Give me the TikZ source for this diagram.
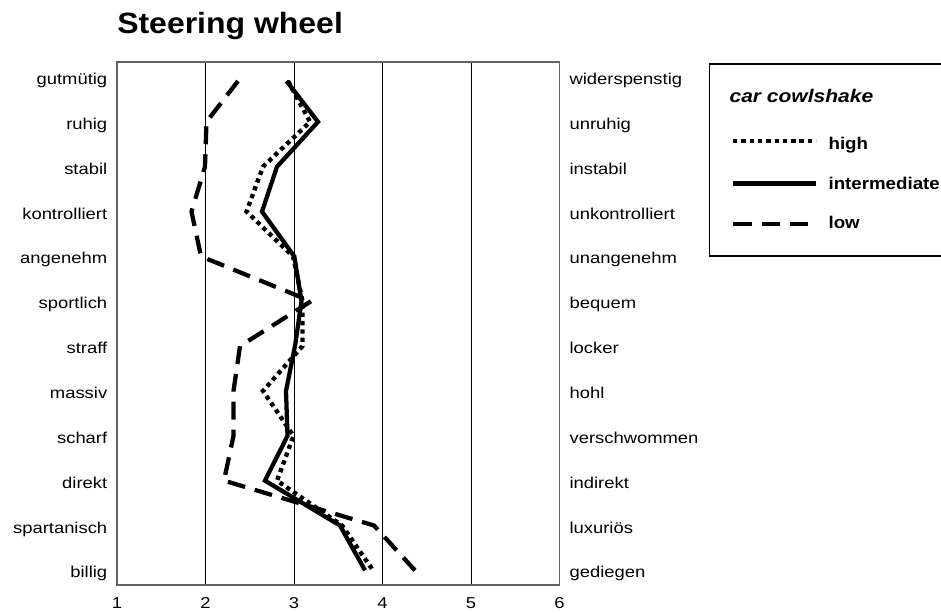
\documentclass[tikz,border=0pt]{standalone}
\usepackage{fontspec}
\setmainfont{Liberation Sans}
\usepackage{graphicx}
\newcommand{\sx}[1]{\scalebox{1.17}[1]{#1}}
\definecolor{framegray}{RGB}{100,100,100}
\begin{document}
\begin{tikzpicture}[x=0.75pt,y=-0.75pt,
  lbl/.style={font=\fontsize{11.8}{14}\selectfont, inner sep=0pt},
  gridline/.style={line width=0.75pt, black},
  frameline/.style={line width=0.9pt, draw=framegray},
  series/.style={line width=3.2pt, line join=miter, line cap=butt},
  hiser/.style={series, line width=3.3pt, dash pattern=on 3.2pt off 3pt},
  midser/.style={series},
  loser/.style={series, dash pattern=on 13.5pt off 7.5pt},
  legtext/.style={font=\fontsize{12.75}{15}\selectfont\bfseries, inner sep=0pt, anchor=base west},
]
\useasboundingbox (0,0) rectangle (941,613);
\clip (0,0) rectangle (941,613);

% title
\node[anchor=base west, inner sep=0pt, font=\fontsize{22}{26}\selectfont\bfseries] (title) at (117,33.3) {\scalebox{1.09}[1]{Steering wheel}};

% grid
\foreach \gx in {205.5,294,382.5,471} \draw[gridline] (\gx,62) -- (\gx,585);

% left and right labels
\foreach \l [count=\i from 0] in {gutmütig,ruhig,stabil,kontrolliert,angenehm,sportlich,straff,massiv,scharf,direkt,spartanisch,billig}
  \node[lbl, anchor=base east] (left\i) at (107.5,{84.5+44.85*\i}) {\sx{\l}};
\foreach \l [count=\i from 0] in {widerspenstig,unruhig,instabil,unkontrolliert,unangenehm,bequem,locker,hohl,verschwommen,indirekt,luxuriös,gediegen}
  \node[lbl, anchor=base west] (right\i) at (569.3,{84.5+44.85*\i}) {\sx{\l}};

% x axis numbers
\foreach \v [count=\k from 0] in {1,...,6}
  \node[lbl, anchor=base] (num\v) at ({117+88.5*\k},608.5) {\sx{\v}};

% series: low (dashed)
\draw[loser] (238,81) -- (206.5,121.85) -- (205,166.7) -- (191.5,211.55) -- (201,256.4)
  -- (311,301.25) -- (240,346.1) -- (233.5,390.95) -- (233.5,435.8) -- (224,480.65)
  -- (374,525.5) -- (415,570.35);
% series: high (dotted)
\draw[hiser] (288,81) -- (310,121.85) -- (263,166.7) -- (246.5,211.55) -- (293,256.4)
  -- (302.5,301.25) -- (302.5,346.1) -- (263,390.95) -- (293.5,435.8) -- (277,480.65)
  -- (342,525.5) -- (373,570.35);
% series: intermediate (solid)
\draw[midser] (286.5,81) -- (318,121.85) -- (277,166.7) -- (262,211.55) -- (294.3,256.4)
  -- (301.5,301.25) -- (295,346.1) -- (286,390.95) -- (287.5,435.8) -- (265,480.65)
  -- (340,525.5) -- (365,570.35);

% frame
\draw[frameline] (117,62) rectangle (559.5,585);

% legend
\draw[line width=1.1pt, black] (709.3,64) rectangle (970,256);
\node[anchor=base west, inner sep=0pt, font=\fontsize{13.7}{16}\selectfont\bfseries\itshape] (legtitle) at (729.3,102.7) {\scalebox{1.15}[1]{car cowlshake}};
\coordinate (hiA) at (733,141);
\coordinate (hiB) at (816,141);
\coordinate (midA) at (733,183.3);
\coordinate (midB) at (816,183.3);
\coordinate (loA) at (733.3,224);
\coordinate (loB) at (808.2,224);
\draw[line width=3.3pt, dash pattern=on 3.3pt off 2.925pt] (hiA) -- (hiB);
\draw[line width=3.6pt] (midA) -- (midB);
\draw[line width=3.4pt, dash pattern=on 13.75pt off 7.5pt] (loA) -- (loB);
\node[legtext] (lhigh) at (828.3,149.3) {\scalebox{1.1}[1]{high}};
\node[legtext] (lmid) at (828.3,189.3) {\scalebox{1.1}[1]{intermediate}};
\node[legtext] (llow) at (828.3,228.3) {\scalebox{1.1}[1]{low}};
\end{tikzpicture}
\end{document}
